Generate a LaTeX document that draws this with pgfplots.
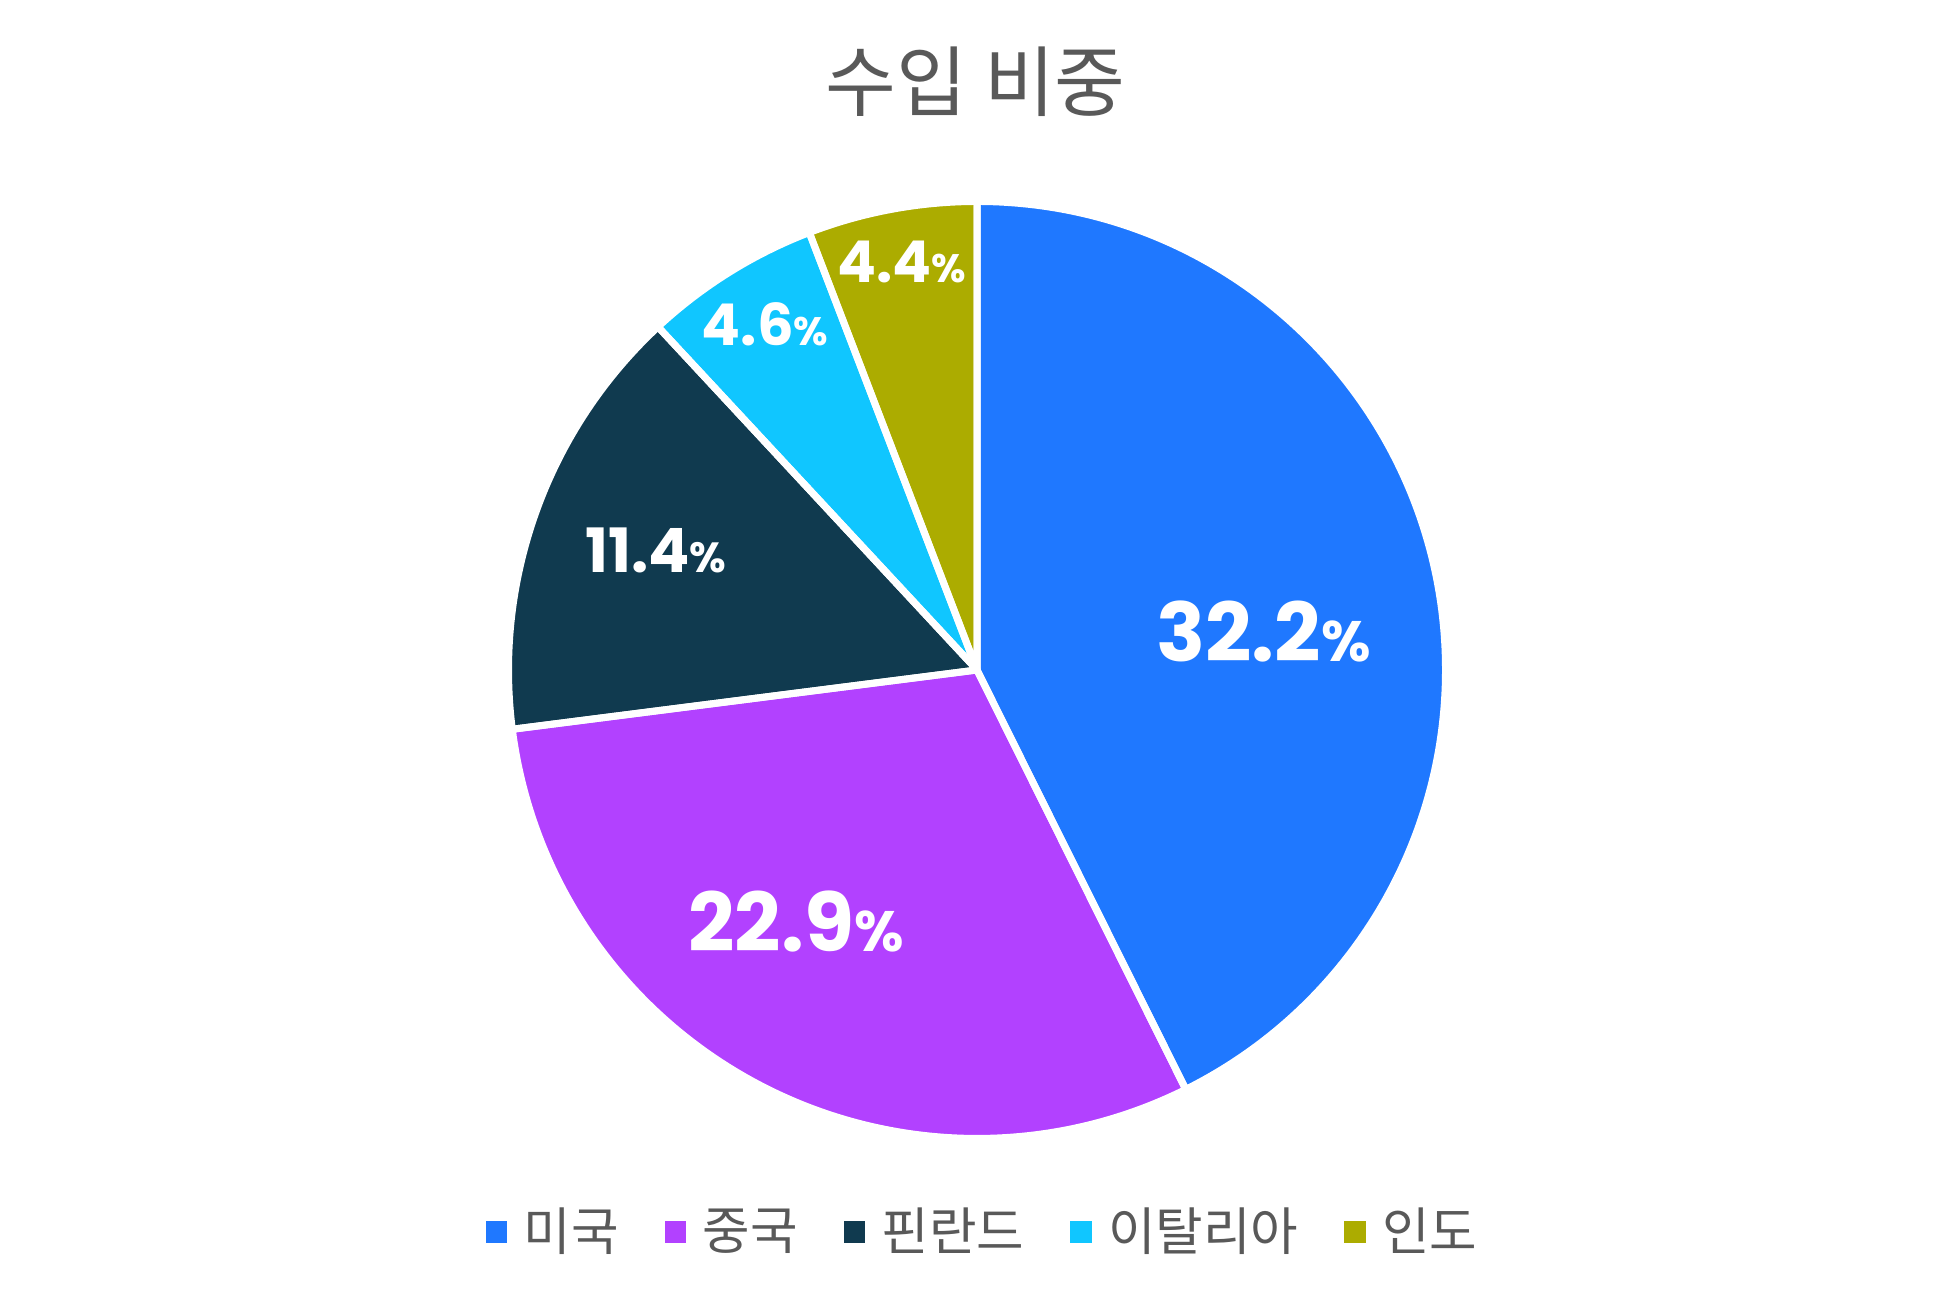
\documentclass[border=0pt]{standalone}
\usepackage{pgfplots}
\usepackage{pgfplotstable}
\pgfplotsset{compat=1.18}
\usepackage{fontspec}
\setmainfont{Noto Sans CJK KR}
\newfontfamily\pop{Poppins}

\definecolor{c0}{HTML}{1F78FF}
\definecolor{c1}{HTML}{B241FF}
\definecolor{c2}{HTML}{103A4F}
\definecolor{c3}{HTML}{10C6FF}
\definecolor{c4}{HTML}{ACAC00}
\definecolor{txtgray}{HTML}{595959}

% share, label position (px from centre), font size of number and of %
\pgfplotstableread{
value labx  laby   size psize
32.2  286.5 38     23.1 16.2
22.9  -181  -252   23.1 16.2
11.4  -321  119.5  17.4 12.0
4.6   -212  345.5  16.4 11.3
4.4   -75   407.5  16.4 11.3
}\piedata

\def\total{0}
\foreach \i in {0,...,4}{%
  \pgfplotstablegetelem{\i}{value}\of\piedata
  \pgfmathparse{\total+\pgfplotsretval}\xdef\total{\pgfmathresult}}
\def\cum{0}
\foreach \i in {0,...,4}{%
  \pgfplotstablegetelem{\i}{value}\of\piedata
  \expandafter\xdef\csname val\i\endcsname{\pgfplotsretval}%
  \pgfmathparse{90-(\cum/\total)*360}\expandafter\xdef\csname sa\i\endcsname{\pgfmathresult}%
  \pgfmathparse{\cum+\pgfplotsretval}\xdef\cum{\pgfmathresult}%
  \pgfmathparse{90-(\cum/\total)*360}\expandafter\xdef\csname ea\i\endcsname{\pgfmathresult}%
  \pgfplotstablegetelem{\i}{labx}\of\piedata
  \expandafter\xdef\csname lx\i\endcsname{\pgfplotsretval}%
  \pgfplotstablegetelem{\i}{laby}\of\piedata
  \expandafter\xdef\csname ly\i\endcsname{\pgfplotsretval}%
  \pgfplotstablegetelem{\i}{size}\of\piedata
  \expandafter\xdef\csname fs\i\endcsname{\pgfplotsretval}%
  \pgfplotstablegetelem{\i}{psize}\of\piedata
  \expandafter\xdef\csname ps\i\endcsname{\pgfplotsretval}%
}

\begin{document}
\begin{tikzpicture}
\begin{axis}[
    x=0.1mm, y=0.1mm,
    xmin=-977, xmax=976,
    ymin=-632, ymax=670,
    hide axis,
    clip=false,
    legend columns=-1,
    legend style={
        at={(0.5026,0.0538)}, anchor=center,
        draw=none, fill=none,
        inner sep=0pt, column sep=0pt,
        nodes={inner sep=0pt},
        font=\fontsize{14.7}{15}\selectfont,
        text=txtgray,
        /tikz/every odd column/.append style={column sep=1.65mm},
        /tikz/every even column/.append style={column sep=4.6mm},
    },
    ]
    \path (axis cs:-977,-632) rectangle (axis cs:976,670);

    % wedges
    \pgfplotsinvokeforeach{0,...,4}{
        \path[fill=c#1] (axis cs:0,0) -- ++(\csname sa#1\endcsname:46.85mm)
            arc[start angle=\csname sa#1\endcsname, end angle=\csname ea#1\endcsname, radius=46.85mm] -- cycle;
    }
    \pgfplotsinvokeforeach{0,...,4}{
        \path[draw=white, line width=0.7mm, line join=round] (axis cs:0,0) -- ++(\csname sa#1\endcsname:46.85mm)
            arc[start angle=\csname sa#1\endcsname, end angle=\csname ea#1\endcsname, radius=46.85mm] -- cycle;
    }
    % value labels
    \pgfplotsinvokeforeach{0,...,4}{
        \node[text=white, inner sep=0pt, font=\pop\bfseries]
            at (axis cs:\csname lx#1\endcsname,\csname ly#1\endcsname)
            {\fontsize{\csname fs#1\endcsname}{20}\selectfont\csname val#1\endcsname\fontsize{\csname ps#1\endcsname}{20}\selectfont\%};
    }

    \node[text=txtgray, font=\fontsize{21.9}{22}\selectfont] at (axis cs:-1.5,588) {수입 비중};

    \addlegendimage{legend image code/.code={\fill[c0] (0mm,-1mm) rectangle (2mm,1mm);}}
    \addlegendentry{미국}
    \addlegendimage{legend image code/.code={\fill[c1] (0mm,-1mm) rectangle (2mm,1mm);}}
    \addlegendentry{중국}
    \addlegendimage{legend image code/.code={\fill[c2] (0mm,-1mm) rectangle (2mm,1mm);}}
    \addlegendentry{핀란드}
    \addlegendimage{legend image code/.code={\fill[c3] (0mm,-1mm) rectangle (2mm,1mm);}}
    \addlegendentry{이탈리아}
    \addlegendimage{legend image code/.code={\fill[c4] (0mm,-1mm) rectangle (2mm,1mm);}}
    \addlegendentry{인도}
\end{axis}
\end{tikzpicture}
\end{document}
